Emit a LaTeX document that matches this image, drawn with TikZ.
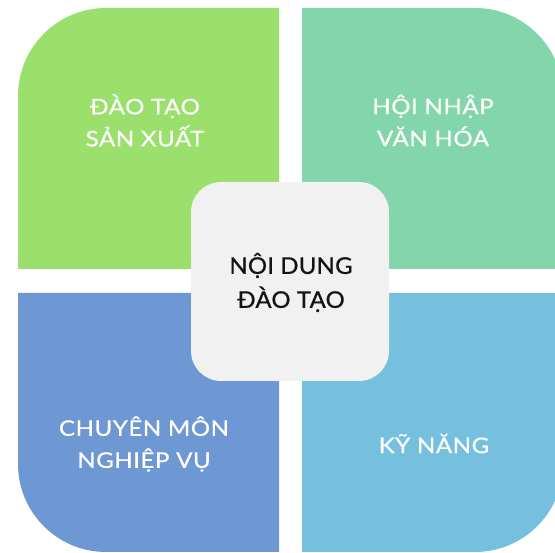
\documentclass[tikz,border=0pt]{standalone}
\usepackage{fontspec}
\setmainfont{Lato}
\newfontfamily\outerfont{Lato}[FakeStretch=1.12,LetterSpace=2.5,FakeBold=0.6]
\newfontfamily\innerfont{Lato}[FakeStretch=1.04,LetterSpace=1,FakeBold=0.8]
\definecolor{cgreen}{HTML}{9BDF6D}
\definecolor{cteal}{HTML}{83D5AB}
\definecolor{cblue}{HTML}{6D98D3}
\definecolor{clight}{HTML}{76C0DF}
\definecolor{ccenter}{HTML}{F1F1F1}
\begin{document}
\begin{tikzpicture}[x=1pt,y=1pt,
  outer/.style={text=white,align=center,font=\outerfont\fontsize{21.5}{32}\selectfont},
  inner/.style={text=black!92,align=center,font=\innerfont\fontsize{23}{34}\selectfont},
  hub/.style={fill=ccenter,rounded corners=30pt,minimum width=198pt,minimum height=199pt,inner sep=0pt}]
\useasboundingbox (0,0) rectangle (555,553);
\begin{scope}
\clip (0,0) rectangle (555,553);
\fill[cgreen] (279,284) -- (18,284) -- (18,457) arc[start angle=180,end angle=90,radius=88] -- (279,545) -- cycle;
\fill[cteal] (302,284) -- (302,545) -- (475,545) arc[start angle=90,end angle=0,radius=88] -- (563,284) -- cycle;
\fill[cblue] (279,260) -- (18,260) -- (18,89) arc[start angle=180,end angle=270,radius=88] -- (279,1) -- cycle;
\fill[clight] (302,260) -- (302,1) -- (475,1) arc[start angle=270,end angle=360,radius=88] -- (563,260) -- cycle;
\end{scope}
\node[hub] (hub) at (290,271.5) {};
\node[inner] (hubtext) at (291,270.5) {NỘI DUNG\\ĐÀO TẠO};
\node[outer] (tl) at (145,432.5) {ĐÀO TẠO\\SẢN XUẤT};
\node[outer] (tr) at (433,432.5) {HỘI NHẬP\\VĂN HÓA};
\node[outer] (bl) at (144,109) {CHUYÊN MÔN\\NGHIỆP VỤ};
\node[outer] (br) at (434,109.5) {KỸ NĂNG};
\end{tikzpicture}
\end{document}
